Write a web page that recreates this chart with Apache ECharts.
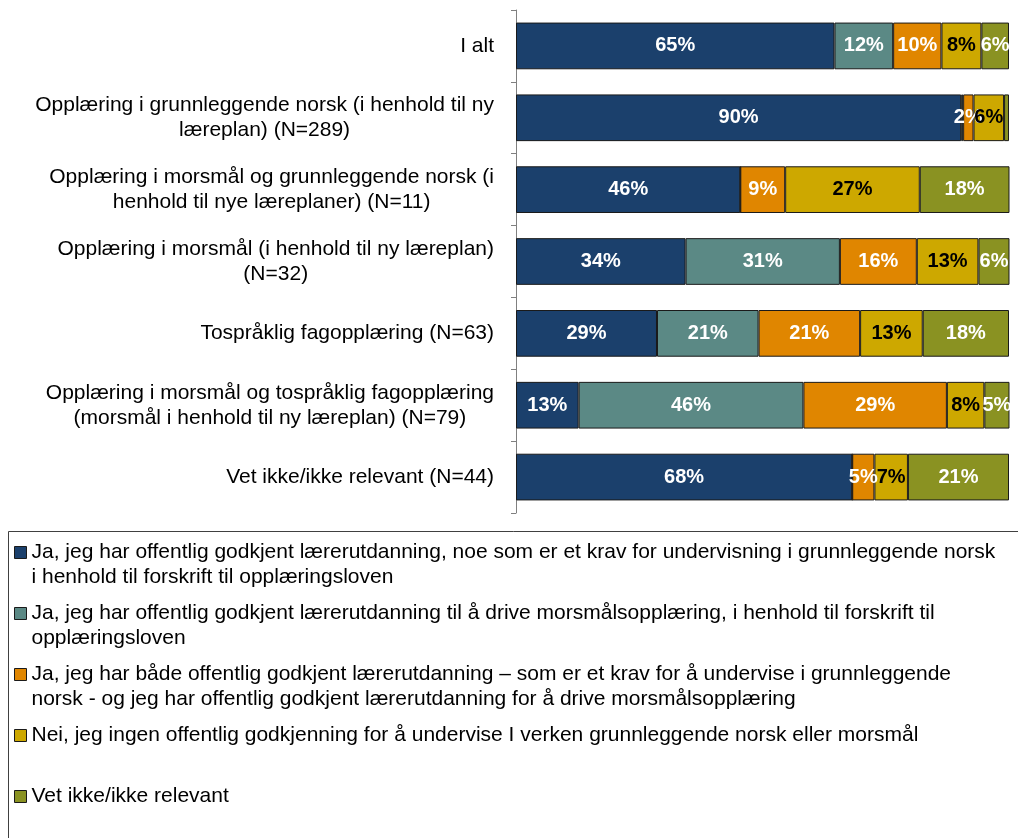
<!DOCTYPE html>
<html>
<head>
<meta charset="utf-8">
<script src="https://cdn.jsdelivr.net/npm/echarts@6/dist/echarts.min.js"></script>
<style>
  html, body { margin: 0; padding: 0; background: #fff; }
  #chart { width: 1018px; height: 838px; }
</style>
</head>
<body>
<div id="chart"></div>
<script>
  // kategorier (ovenfra og ned)
  const categories = [
    'I alt',
    'Opplæring i grunnleggende norsk (i henhold til ny\nlæreplan) (N=289)',
    'Opplæring i morsmål og grunnleggende norsk (i\nhenhold til nye læreplaner) (N=11)',
    'Opplæring i morsmål (i henhold til ny læreplan)\n(N=32)',
    'Tospråklig fagopplæring (N=63)',
    'Opplæring i morsmål og tospråklig fagopplæring\n(morsmål i henhold til ny læreplan) (N=79)',
    'Vet ikke/ikke relevant (N=44)'
  ];

  const seriesNames = [
    'Ja, jeg har offentlig godkjent lærerutdanning, noe som er et krav for undervisning i grunnleggende norsk\ni henhold til forskrift til opplæringsloven',
    'Ja, jeg har offentlig godkjent lærerutdanning til å drive morsmålsopplæring, i henhold til forskrift til\nopplæringsloven',
    'Ja, jeg har både offentlig godkjent lærerutdanning – som er et krav for å undervise i grunnleggende\nnorsk - og jeg har offentlig godkjent lærerutdanning for å drive morsmålsopplæring',
    'Nei, jeg ingen offentlig godkjenning for å undervise I verken grunnleggende norsk eller morsmål\n ',
    'Vet ikke/ikke relevant\n '
  ];

  // prosent per kategori, samme rekkefølge som categories
  const godkjentNorsk = [64.6, 90.3, 45.5, 34.4, 28.6, 12.7, 68.2];
  const godkjentMorsmal = [11.9, 0.4, 0, 31.3, 20.6, 45.6, 0];
  const begge = [9.8, 2.1, 9.1, 15.6, 20.6, 29.1, 4.5];
  const ingen = [8.1, 6.2, 27.3, 12.5, 12.7, 7.6, 6.8];
  const vetIkke = [5.6, 1.0, 18.2, 6.3, 17.5, 5.1, 20.5];

  const values = [godkjentNorsk, godkjentMorsmal, begge, ingen, vetIkke];
  const colors = ['#1B406C', '#5B8985', '#E08600', '#CDA800', '#8A9222'];
  const labelColors = ['#fff', '#fff', '#fff', '#000', '#fff'];

  const series = values.map((vals, i) => ({
    name: seriesNames[i],
    type: 'bar',
    stack: 'total',
    barWidth: '65%',
    data: vals,
    itemStyle: {
      color: colors[i],
      borderColor: '#1a1a1a',
      borderWidth: 1
    },
    label: {
      show: true,
      position: 'inside',
      color: labelColors[i],
      fontFamily: 'Liberation Sans',
      fontWeight: 'bold',
      fontSize: 20,
      formatter: (p) => (p.value >= 1.5 ? Math.round(p.value) + '%' : '')
    }
  }));

  const chart = echarts.init(document.getElementById('chart'));
  chart.setOption({
    animation: false,
    textStyle: { fontFamily: 'Liberation Sans' },
    grid: { left: 516, right: 9, top: 10, bottom: 325 },
    xAxis: {
      type: 'value',
      min: 0,
      max: 100,
      show: false
    },
    yAxis: {
      type: 'category',
      inverse: true,
      data: categories,
      axisLine: { show: true, lineStyle: { color: '#808080', width: 1 } },
      axisTick: { show: true, length: 5, lineStyle: { color: '#808080' } },
      axisLabel: {
        margin: 22,
        color: '#000',
        fontSize: 21,
        lineHeight: 25,
        formatter: (v) => v.split('\n').map((s) => '{c|' + s + '}').join('\n'),
        rich: {
          c: { align: 'center', fontSize: 21, lineHeight: 25, color: '#000' }
        }
      }
    },
    // ramme rundt forklaringen
    graphic: [{
      type: 'rect',
      shape: { x: 8.5, y: 531.5, width: 1100, height: 400 },
      style: { fill: 'none', stroke: '#404040', lineWidth: 1 },
      z: -1
    }],
    legend: {
      orient: 'vertical',
      left: 14,
      top: 515,
      height: 1000,
      itemWidth: 12,
      itemHeight: 12,
      itemGap: -14,
      icon: 'rect',
      padding: 0,
      itemStyle: { borderColor: '#1a1a1a', borderWidth: 1 },
      // tom linje over, slik at markøren står ved første tekstlinje
      formatter: (name) => '\u00a0\n' + name,
      textStyle: {
        fontSize: 21,
        lineHeight: 25,
        color: '#000'
      },
      data: seriesNames
    },
    series: series
  });
</script>
</body>
</html>
